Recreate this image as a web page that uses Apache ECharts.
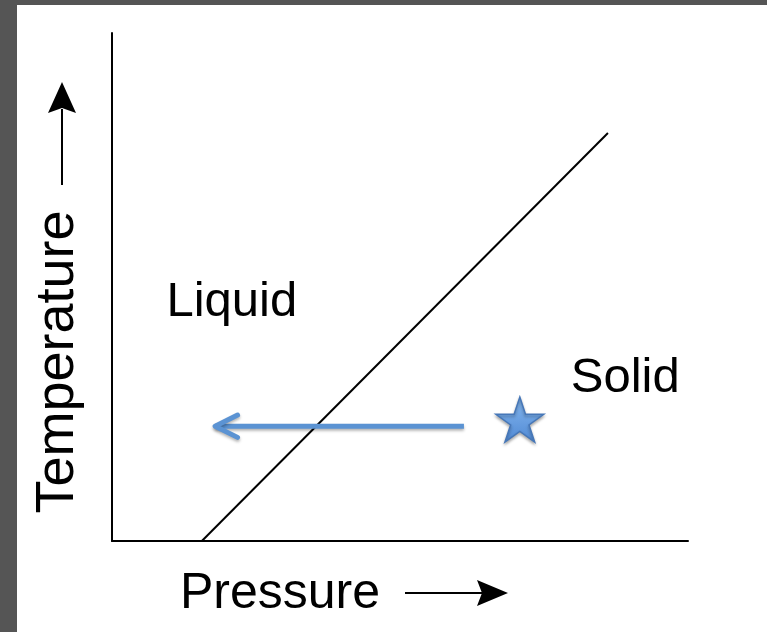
<!DOCTYPE html>
<html>
<head>
<meta charset="utf-8">
<script src="https://cdn.jsdelivr.net/npm/echarts@6/dist/echarts.min.js"></script>
<style>
  html, body { margin: 0; padding: 0; background: #555555; }
  #main { position: absolute; left: 17px; top: 5px; width: 750px; height: 627px; background: #ffffff; }
</style>
</head>
<body>
<div id="main"></div>
<script>
  // axis ranges (no numbers shown, just a schematic)
  var pressureRange = [0, 10];
  var temperatureRange = [0, 10];

  // liquid / solid boundary line
  var boundaryP = [1.56, 8.61];
  var boundaryT = [0, 8.03];

  // the blue "move" arrow (shaft + open head)
  var moveP = [6.11, 1.79];
  var moveT = [2.26, 2.26];
  var headP = [2.18, 1.79, 2.18];
  var headT = [2.48, 2.26, 2.04];

  // starting point (star)
  var startP = [7.08];
  var startT = [2.39];

  // region labels
  var regionNames = ['Liquid', 'Solid'];
  var regionP = [2.08, 8.91];
  var regionT = [4.70, 3.19];

  function zip (xs, ys) {
    return xs.map(function (x, i) { return [x, ys[i]] })
  }

  var starPath = 'path://M50,0 L61.23,34.55 L97.55,34.55 L68.17,55.9 L79.39,90.45 L50,69.1 L20.61,90.45 L31.83,55.9 L2.45,34.55 L38.77,34.55 Z'
  var font = 'Liberation Sans, Arial, Helvetica, sans-serif'
  var blue = '#5b93d3'

  var myChart = echarts.init(document.getElementById('main'))
  var option = {
    animation: false,
    grid: { left: 95, top: 28, width: 576, height: 508 },
    xAxis: {
      type: 'value',
      min: pressureRange[0],
      max: pressureRange[1],
      axisLine: { show: true, lineStyle: { color: '#000', width: 2 } },
      axisTick: { show: false },
      axisLabel: { show: false },
      splitLine: { show: false }
    },
    yAxis: {
      type: 'value',
      min: temperatureRange[0],
      max: temperatureRange[1],
      axisLine: { show: true, lineStyle: { color: '#000', width: 2 } },
      axisTick: { show: false },
      axisLabel: { show: false },
      splitLine: { show: false }
    },
    graphic: [
      // Temperature axis title + arrow
      {
        type: 'text', x: 41, y: 357, rotation: Math.PI / 2,
        style: { text: 'Temperature', font: '54px ' + font, fill: '#000', align: 'center', verticalAlign: 'middle' }
      },
      { type: 'line', shape: { x1: 45, y1: 180, x2: 45, y2: 104 }, style: { stroke: '#000', lineWidth: 2 } },
      { type: 'polygon', shape: { points: [[45, 77], [59, 108], [45, 103], [31, 108]] }, style: { fill: '#000' } },
      // Pressure axis title + arrow
      {
        type: 'text', x: 263, y: 589,
        style: { text: 'Pressure', font: '50px ' + font, fill: '#000', align: 'center', verticalAlign: 'middle' }
      },
      { type: 'line', shape: { x1: 388, y1: 588, x2: 466, y2: 588 }, style: { stroke: '#000', lineWidth: 2 } },
      { type: 'polygon', shape: { points: [[491, 588], [460, 601], [465, 588], [460, 575]] }, style: { fill: '#000' } }
    ],
    series: [
      {
        type: 'line',
        data: zip(boundaryP, boundaryT),
        showSymbol: false,
        silent: true,
        lineStyle: { color: '#000', width: 2 }
      },
      {
        type: 'line',
        data: zip(moveP, moveT),
        showSymbol: false,
        silent: true,
        lineStyle: { color: blue, width: 5, shadowColor: 'rgba(0,0,0,0.3)', shadowBlur: 3, shadowOffsetY: 2 }
      },
      {
        type: 'line',
        data: zip(headP, headT),
        showSymbol: false,
        silent: true,
        lineStyle: { color: blue, width: 5, cap: 'round', join: 'round', shadowColor: 'rgba(0,0,0,0.3)', shadowBlur: 3, shadowOffsetY: 2 }
      },
      {
        type: 'scatter',
        data: zip(startP, startT),
        symbol: starPath,
        symbolSize: [48, 45],
        silent: true,
        itemStyle: {
          opacity: 1,
          color: new echarts.graphic.LinearGradient(0, 0, 0, 1, [
            { offset: 0, color: '#86b8ef' },
            { offset: 1, color: '#5089d4' }
          ]),
          borderColor: '#4677b8',
          borderWidth: 1.5,
          shadowColor: 'rgba(0,0,0,0.3)',
          shadowBlur: 3,
          shadowOffsetY: 2
        }
      },
      {
        type: 'scatter',
        data: zip(regionP, regionT).map(function (d, i) { return { value: d, name: regionNames[i] } }),
        symbolSize: 0,
        silent: true,
        itemStyle: { opacity: 1 },
        label: {
          show: true,
          position: 'inside',
          formatter: '{b}',
          color: '#000',
          opacity: 1,
          fontSize: 49,
          fontFamily: font
        }
      }
    ]
  }
  myChart.setOption(option)
</script>
</body>
</html>
